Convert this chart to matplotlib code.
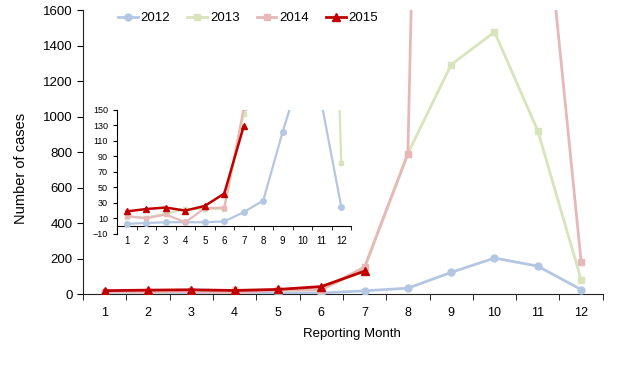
import numpy as np
import matplotlib
matplotlib.use("Agg")
import matplotlib.pyplot as plt

plt.rcParams['font.family'] = ['Liberation Sans', 'DejaVu Sans']

months = list(range(1, 13))
c2012 = [3, 4, 5, 5, 5, 6, 18, 33, 122, 203, 157, 25]
c2013 = [12, 11, 16, 22, 22, 22, 145, 792, 1293, 1477, 920, 81]
c2014 = [13, 10, 15, 5, 23, 24, 152, 790, 11500, 6500, 2620, 182]
c2015 = [19, 22, 24, 20, 26, 42, 129]

years = ['2012', '2013', '2014', '2015']
cols = ['#b4c7e2', '#d8e4bc', '#e6b9b8', '#c00000']
marks = ['o', 's', 's', '^']
series = [c2012, c2013, c2014, c2015]

fig = plt.figure(figsize=(6.24, 3.76), dpi=100)
ax = fig.add_axes([0.133, 0.218, 0.833, 0.755])


def draw(a, ms, lw, lab=True):
    for i in range(4):
        y = series[i]
        x = months[:len(y)]
        a.plot(x, y, color=cols[i], marker=marks[i], markersize=ms[i], lw=lw[i],
               label=years[i] if lab else None, zorder=3 + i)


draw(ax, [5, 4.5, 4.5, 6], [2, 2, 2, 2])
ax.set_xlim(0.5, 12.5)
ax.set_ylim(0, 1600)
ax.set_yticks(range(0, 1601, 200))
ax.set_xticks(months)
ax.set_xticks(np.arange(0.5, 13, 1), minor=True)
ax.tick_params(axis='x', which='major', length=0, pad=9, labelsize=9)
ax.tick_params(axis='x', which='minor', length=4, direction='out')
ax.tick_params(axis='y', length=4, direction='out', labelsize=9.5)
for s in ['top', 'right']:
    ax.spines[s].set_visible(False)
ax.spines['left'].set_color('#222222')
ax.spines['bottom'].set_color('#222222')
ax.set_xlabel('Reporting Month', fontsize=9.5)
ax.set_ylabel('Number of cases', fontsize=10.5)
ax.xaxis.set_label_coords(0.517, -0.118)
ax.yaxis.set_label_coords(-0.106, 0.444)
ax.legend(loc='upper left', bbox_to_anchor=(0.045, 1.035), ncol=4, frameon=False,
          fontsize=9.5, handlelength=1.5, handletextpad=0.2, columnspacing=1.3)

ins = fig.add_axes([0.1875, 0.378, 0.375, 0.330])
ins.patch.set_alpha(0)
draw(ins, [4, 3.5, 3.5, 5], [1.6, 1.6, 1.6, 1.8], lab=False)
ins.set_xlim(0.5, 12.5)
ins.set_ylim(-10, 150)
ins.set_yticks(range(-10, 151, 20))
ins.set_xticks(months)
ins.set_xticks(np.arange(0.5, 13, 1), minor=True)
ins.spines['bottom'].set_position(('data', 0))
for s in ['top', 'right']:
    ins.spines[s].set_visible(False)
ins.tick_params(axis='x', which='major', length=0, pad=7, labelsize=7)
ins.tick_params(axis='x', which='minor', length=3, direction='out')
ins.tick_params(axis='y', length=3, direction='out', labelsize=6.5)

fig.savefig('out.png', dpi=100)
